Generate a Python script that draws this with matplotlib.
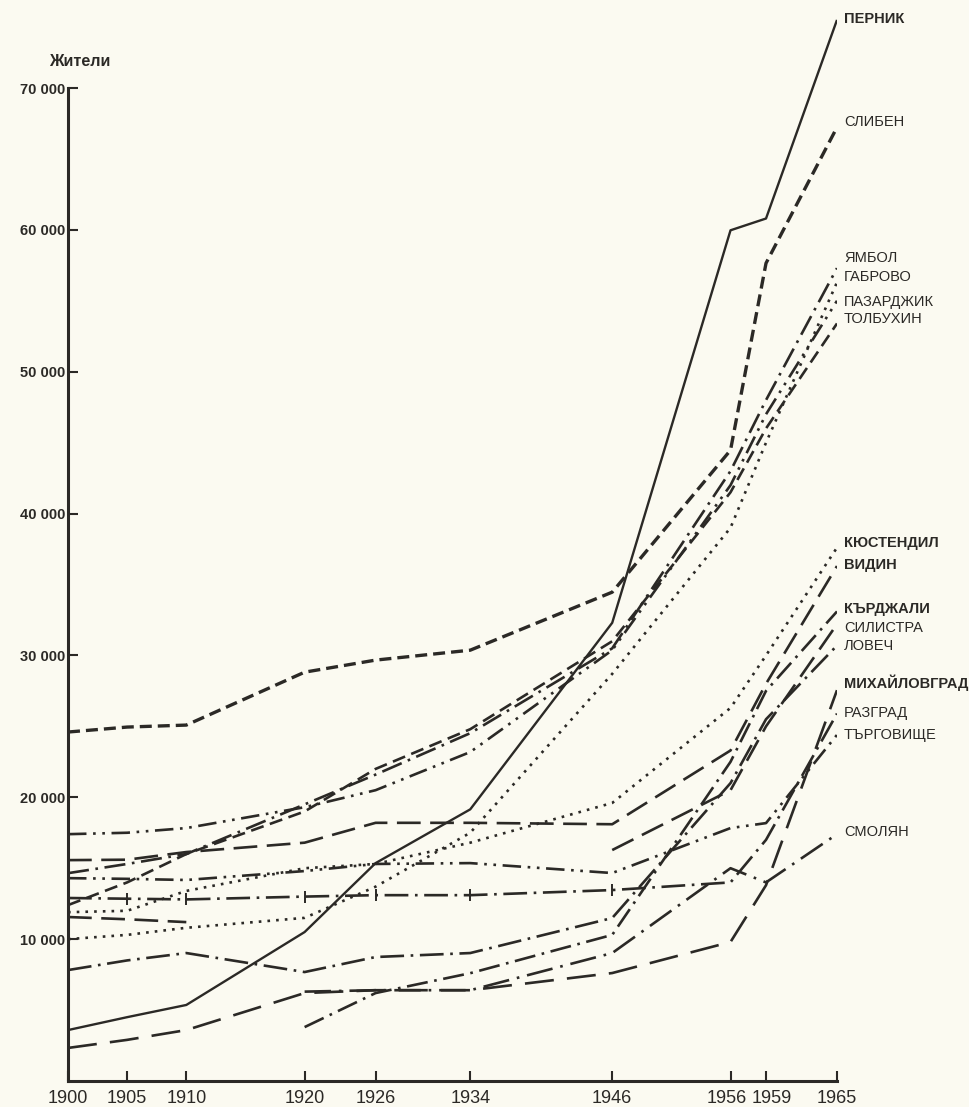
import numpy as np
import matplotlib.pyplot as plt
import matplotlib.transforms as mtransforms

years = [1900, 1905, 1910, 1920, 1926, 1934, 1946, 1956, 1959, 1965]
nan = np.nan

pernik = [3590, 4500, 5360, 10500, 15360, 19150, 32300, 59970, 60800, 74800]
sliven = [24600, 24950, 25090, 28820, 29670, 30370, 34460, 44470, 57650, 67230]
yambol = [14650, 15300, 16000, 19500, 21600, 24520, 30500, 43000, 48000, 57300]
gabrovo = [10000, 10300, 10800, 11500, 13700, 17500, 28700, 39000, 45000, 56300]
pazardzhik = [17400, 17500, 17830, 19300, 20500, 23190, 30370, 42000, 47000, 55000]
tolbukhin = [12400, 14000, 16000, 19000, 22000, 24800, 31000, 41500, 46000, 53400]
kyustendil = [11900, 12000, 13400, 15000, 15300, 16800, 19600, 26300, 30000, 37600]
vidin = [15570, 15600, 16140, 16800, 18200, 18200, 18100, 23300, 28000, 36300]
kardzhali = [nan, nan, nan, 3800, 6200, 7600, 10300, 22500, 27500, 33100]
silistra = [11560, 11400, 11200, nan, nan, nan, 16280, 20500, 25000, 32200]
lovech = [7820, 8500, 9020, 7680, 8740, 9020, 11490, 21000, 25500, 30700]
mihaylovgrad = [2330, 2900, 3590, 6200, 6400, 6400, 7610, 9800, 13800, 27550]
razgrad = [12900, 12850, 12800, 13000, 13100, 13100, 13460, 14000, 17000, 25900]
targovishte = [14300, 14250, 14170, 14800, 15300, 15360, 14660, 17830, 18180, 24400]
smolyan = [nan, nan, nan, 6300, 6400, 6400, 9020, 15000, 14000, 17400]

names = ['ПЕРНИК', 'СЛИБЕН', 'ЯМБОЛ', 'ГАБРОВО', 'ПАЗАРДЖИК', 'ТОЛБУХИН',
         'КЮСТЕНДИЛ', 'ВИДИН', 'КЪРДЖАЛИ', 'СИЛИСТРА', 'ЛОВЕЧ',
         'МИХАЙЛОВГРАД', 'РАЗГРАД', 'ТЪРГОВИЩЕ', 'СМОЛЯН']
series = [pernik, sliven, yambol, gabrovo, pazardzhik, tolbukhin,
          kyustendil, vidin, kardzhali, silistra, lovech,
          mihaylovgrad, razgrad, targovishte, smolyan]
label_y = [74840, 67580, 58000, 56660, 54900, 53700, 37910, 36360,
           33260, 31920, 30660, 28050, 25930, 24380, 17550]
bold_labels = {'ПЕРНИК', 'КЮСТЕНДИЛ', 'ВИДИН', 'КЪРДЖАЛИ', 'МИХАЙЛОВГРАД'}

# dash patterns, roughly as drawn in the original
styles = {
    'ПЕРНИК': '-',
    'СЛИБЕН': (0, (3.6, 1.8)),
    'ЯМБОЛ': (0, (8, 2.5, 1, 2.5)),
    'ГАБРОВО': (0, (1, 2.3)),
    'ПАЗАРДЖИК': (0, (7, 2.5, 1, 2.5, 1, 2.5)),
    'ТОЛБУХИН': (0, (5, 2.5)),
    'КЮСТЕНДИЛ': (0, (1, 2.3)),
    'ВИДИН': (0, (9, 3.6)),
    'КЪРДЖАЛИ': (0, (8, 2.5, 1, 2.5)),
    'СИЛИСТРА': (0, (9, 3.6)),
    'ЛОВЕЧ': (0, (9, 2.5, 1, 2.5)),
    'МИХАЙЛОВГРАД': (0, (11, 5)),
    'РАЗГРАД': (0, (9, 2.5, 1, 2.5)),
    'ТЪРГОВИЩЕ': (0, (7, 2.5, 1, 2.5, 1, 2.5)),
    'СМОЛЯН': (0, (10, 3, 1, 3)),
}
widths = {'ПЕРНИК': 1.7, 'СЛИБЕН': 2.4}

ink = '#2b2926'
paper = '#fbfaf1'

fig = plt.figure(figsize=(9.69, 11.07), dpi=100, facecolor=paper)
ax = fig.add_axes([68 / 969, 26 / 1107, (837 - 68) / 969, (1107 - 26) / 1107])
ax.set_facecolor(paper)

for name, vals in zip(names, series):
    ax.plot(years, vals, color=ink, lw=widths.get(name, 1.9), linestyle=styles[name],
            solid_capstyle='butt', dash_capstyle='butt')
# Разград carries small vertical ticks along its line
ax.plot(years[:7], razgrad[:7], linestyle='none', marker='|', markersize=8,
        markeredgewidth=1.4, color=ink)

for name, ly in zip(names, label_y):
    ax.text(1965.6, ly, name, fontsize=10.5, color=ink, va='center', ha='left',
            family='Liberation Sans',
            fontweight='bold' if name in bold_labels else 'normal')

ax.set_xlim(1900, 1965)
ymax = 70000 * (1107 - 26) / (1081 - 88)
ax.set_ylim(0, ymax)

for s in ['top', 'right']:
    ax.spines[s].set_visible(False)
ax.spines['left'].set_bounds(0, 70000)
ax.spines['bottom'].set_bounds(1900, 1965)
for s in ['left', 'bottom']:
    ax.spines[s].set_linewidth(2.2)
    ax.spines[s].set_color(ink)

# year labels drawn by hand so the crowded 1956/1959 pair can be pushed apart
ax.set_xticks(years)
ax.set_xticklabels([])
nudge = {1956: -4, 1959: 6}
for yr in years:
    tr = mtransforms.offset_copy(ax.get_xaxis_transform(), fig=fig,
                                 x=nudge.get(yr, 0), y=-9, units='dots')
    ax.text(yr, 0, str(yr), transform=tr, ha='center', va='top', fontsize=13,
            family='Liberation Sans', color=ink, clip_on=False)

yt = [10000, 20000, 30000, 40000, 50000, 60000, 70000]
ax.set_yticks(yt)
ax.set_yticklabels(['{:,}'.format(v).replace(',', ' ') for v in yt],
                   fontsize=10.5, family='Liberation Sans', color=ink, fontweight='bold')
ax.tick_params(axis='both', direction='in', length=7, width=1.5, color=ink)
ax.tick_params(axis='y', pad=2)

fig.text(80 / 969, 1 - 62 / 1107, 'Жители', fontsize=11.5, fontweight='bold',
         family='Liberation Sans', color=ink, ha='center', va='center')

fig.savefig('out.png', dpi=100, facecolor=paper)
